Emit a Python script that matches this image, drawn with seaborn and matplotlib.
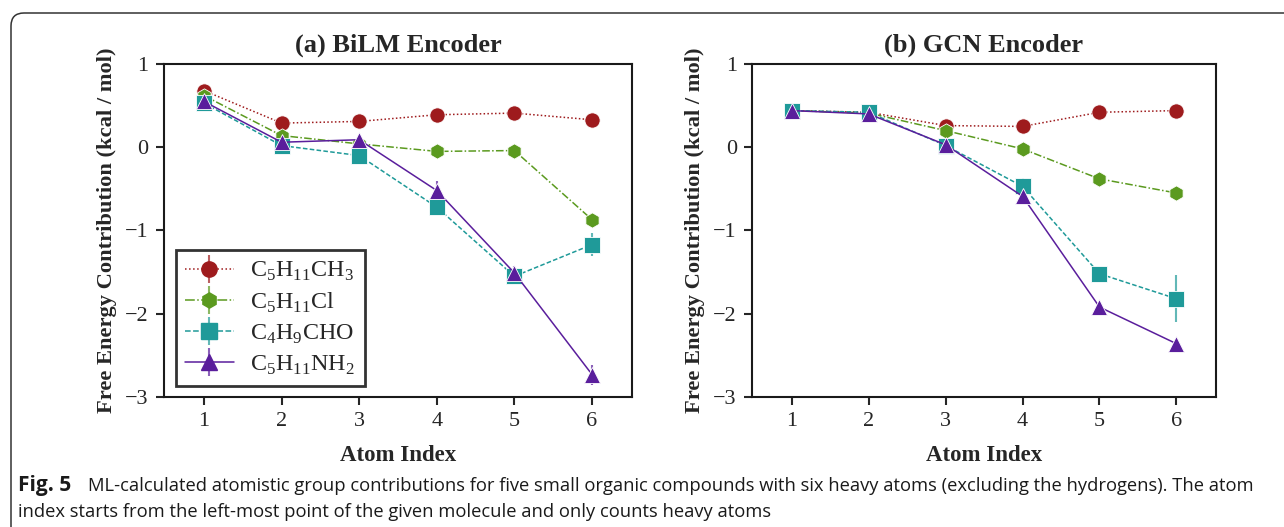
import numpy as np
import pandas as pd
import seaborn as sns
import matplotlib.pyplot as plt
from matplotlib.lines import Line2D
from matplotlib.patches import FancyBboxPatch

# atom index on x, contribution in kcal/mol on y
atom_idx = [1, 2, 3, 4, 5, 6]
names = [r'C$_5$H$_{11}$CH$_3$', r'C$_5$H$_{11}$Cl', r'C$_4$H$_9$CHO', r'C$_5$H$_{11}$NH$_2$']

# (a) BiLM encoder
bilm_ch3 = [0.68, 0.29, 0.31, 0.39, 0.41, 0.33]
bilm_cl = [0.62, 0.14, 0.04, -0.05, -0.04, -0.87]
bilm_cho = [0.53, 0.02, -0.10, -0.72, -1.55, -1.17]
bilm_nh2 = [0.55, 0.06, 0.09, -0.52, -1.51, -2.73]
bilm_ch3_err = [0.05, 0.03, 0.03, 0.03, 0.03, 0.03]
bilm_cl_err = [0.04, 0.05, 0.03, 0.03, 0.03, 0.08]
bilm_cho_err = [0.04, 0.05, 0.08, 0.10, 0.06, 0.14]
bilm_nh2_err = [0.04, 0.04, 0.04, 0.12, 0.08, 0.12]

# (b) GCN encoder
gcn_ch3 = [0.44, 0.42, 0.26, 0.25, 0.42, 0.44]
gcn_cl = [0.44, 0.41, 0.20, -0.02, -0.38, -0.55]
gcn_cho = [0.44, 0.42, 0.02, -0.47, -1.52, -1.82]
gcn_nh2 = [0.44, 0.40, 0.03, -0.59, -1.92, -2.36]
gcn_ch3_err = [0.02, 0.02, 0.02, 0.02, 0.02, 0.02]
gcn_cl_err = [0.02, 0.02, 0.03, 0.03, 0.03, 0.02]
gcn_cho_err = [0.02, 0.02, 0.08, 0.10, 0.06, 0.28]
gcn_nh2_err = [0.02, 0.02, 0.03, 0.04, 0.03, 0.05]

colors = ['#9e1b1d', '#5b9a1f', '#1f9a99', '#5a1e9c']
markers = ['o', 'h', 's', '^']
dashes = [(1, 1.5), (5, 1.5, 1, 1.5), (3, 1.5), '']
lstyles = [':', '-.', '--', '-']

sns.set_style('ticks')
plt.rcParams['font.family'] = ['Liberation Serif', 'DejaVu Serif']
plt.rcParams['mathtext.fontset'] = 'custom'
plt.rcParams['mathtext.rm'] = 'Liberation Serif'
plt.rcParams['axes.linewidth'] = 1.5
plt.rcParams['axes.edgecolor'] = '#1a1a1a'

def to_long(vals, errs):
    rows = []
    for nm, v, e in zip(names, vals, errs):
        for i, y, er in zip(atom_idx, v, e):
            rows.append({'atom': i, 'val': y, 'err': er, 'mol': nm})
    return pd.DataFrame(rows)

df_a = to_long([bilm_ch3, bilm_cl, bilm_cho, bilm_nh2],
               [bilm_ch3_err, bilm_cl_err, bilm_cho_err, bilm_nh2_err])
df_b = to_long([gcn_ch3, gcn_cl, gcn_cho, gcn_nh2],
               [gcn_ch3_err, gcn_cl_err, gcn_cho_err, gcn_nh2_err])

fig = plt.figure(figsize=(12.84, 5.27), dpi=100)
ax1 = fig.add_axes([0.1277, 0.2467, 0.3645, 0.6319])
ax2 = fig.add_axes([0.5857, 0.2467, 0.3614, 0.6319])

pal = dict(zip(names, colors))
mk = dict(zip(names, markers))
ds = dict(zip(names, dashes))

for ax, df, ttl in [(ax1, df_a, '(a) BiLM Encoder'), (ax2, df_b, '(b) GCN Encoder')]:
    for nm, c in zip(names, colors):
        d = df[df.mol == nm]
        ax.errorbar(d.atom, d.val, yerr=d.err, fmt='none', ecolor=c, alpha=0.7,
                    elinewidth=1.5, capsize=0, zorder=2)
    sns.lineplot(data=df, x='atom', y='val', hue='mol', style='mol', palette=pal,
                 markers=mk, dashes=ds, markersize=11, markeredgewidth=0.6,
                 linewidth=1.1, legend=False, ax=ax, zorder=3)
    ax.set_xlim(0.485, 6.515)
    ax.set_ylim(-3, 1)
    ax.set_xticks(atom_idx)
    ax.set_yticks([-3, -2, -1, 0, 1])
    ax.set_yticklabels(['\u22123', '\u22122', '\u22121', '0', '1'])
    ax.tick_params(labelsize=16, length=6, width=1.5, direction='out', pad=5)
    ax.set_title(ttl, fontsize=19, fontweight='bold', pad=9)
    ax.set_xlabel('Atom Index', fontsize=16.5, fontweight='bold', labelpad=10)
    ax.set_ylabel('Free Energy Contribution (kcal / mol)', fontsize=16.2,
                  fontweight='bold', labelpad=6)
    for s in ax.spines.values():
        s.set_visible(True)

handles = []
for nm, c, m, ls in zip(names, colors, markers, lstyles):
    h_line = Line2D([], [], color=c, linestyle=ls, marker=m, markersize=11, linewidth=1.1)
    h_err = Line2D([], [], color=c, linestyle='none', marker='|', markersize=20,
                   markeredgewidth=1.5, alpha=0.7)
    handles.append((h_line, h_err))
leg = ax1.legend(handles, names, loc='lower left', bbox_to_anchor=(0.01, 0.01),
                 fontsize=17.3, fancybox=False, framealpha=1, edgecolor='#333333',
                 handlelength=2.0, borderpad=0.4, labelspacing=0.32, handletextpad=0.7,
                 borderaxespad=0.3)
leg.get_frame().set_linewidth(2)

# rounded frame of the article panel, in inches from the bottom left corner
frame = FancyBboxPatch((0.11, -1.0), 20, 5.27 - 0.13 + 1.0,
                       boxstyle='round,pad=0,rounding_size=0.13',
                       transform=fig.dpi_scale_trans, fill=False, edgecolor='#333333',
                       linewidth=1.1)
fig.add_artist(frame)

cap_font = ['Open Sans', 'DejaVu Sans']
fig.text(18 / 1284, 1 - 486 / 527, 'Fig. 5', fontsize=15, fontweight='bold',
         family=cap_font, va='center', color='#1a1a1a')
fig.text(88 / 1284, 1 - 486 / 527,
         'ML-calculated atomistic group contributions for five small organic compounds with six heavy atoms '
         '(excluding the hydrogens). The atom',
         fontsize=13.2, family=cap_font, va='center', color='#1a1a1a')
fig.text(18 / 1284, 1 - 512 / 527,
         'index starts from the left-most point of the given molecule and only counts heavy atoms',
         fontsize=13.2, family=cap_font, va='center', color='#1a1a1a')

fig.savefig('out.png', dpi=100)
